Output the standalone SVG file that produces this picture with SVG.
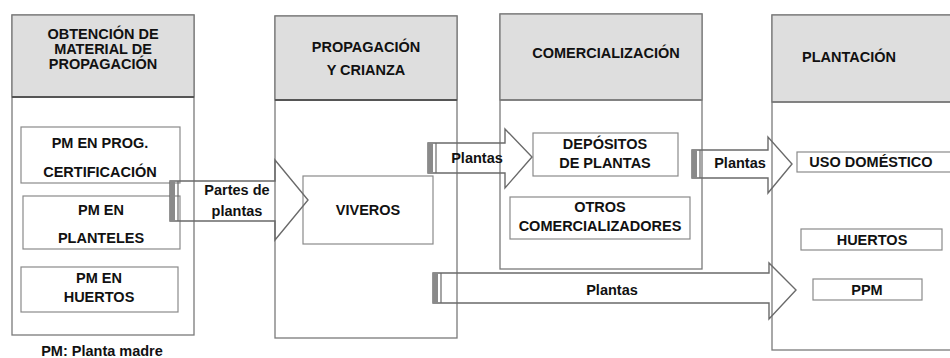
<svg xmlns="http://www.w3.org/2000/svg" width="950" height="358" viewBox="0 0 950 358">
<style>
.col{fill:#fff;stroke:#7a7a7a;stroke-width:1.3}
.hdr{fill:#dedede;stroke:#7a7a7a;stroke-width:1.3}
.hline{stroke:#555;stroke-width:2}
.box{fill:#fff;stroke:#8a8a8a;stroke-width:1.2}
.t{font-family:"Liberation Sans",Arial,sans-serif;font-weight:bold;font-size:14.5px;fill:#111;text-anchor:middle}
.a{font-family:"Liberation Sans",Arial,sans-serif;font-weight:bold;font-size:14.5px;fill:#111;text-anchor:middle}
.arr{fill:none;stroke:#6a6a6a;stroke-width:1.4}
.stripe{fill:#8a8a8a}
.sline{stroke:#6a6a6a;stroke-width:1.2}
</style>
<rect width="950" height="358" fill="#fff"/>

<g id="col1">
<rect class="col" x="12" y="15" width="182" height="320"/>
<rect class="hdr" x="12" y="15" width="182" height="82"/>
<line class="hline" x1="12" y1="97" x2="194" y2="97"/>
<text class="t" x="103" y="39">OBTENCIÓN DE</text>
<text class="t" x="103" y="54">MATERIAL DE</text>
<text class="t" x="103" y="69">PROPAGACIÓN</text>
</g>
<g id="pm-prog">
<rect class="box" x="21" y="127" width="159" height="56"/>
<text class="t" x="100" y="148">PM EN PROG.</text>
<text class="t" x="100" y="177">CERTIFICACIÓN</text>
</g>
<g id="pm-planteles">
<rect class="box" x="23" y="196" width="157" height="53"/>
<text class="t" x="101" y="215">PM EN</text>
<text class="t" x="101" y="243">PLANTELES</text>
</g>
<g id="pm-huertos">
<rect class="box" x="21" y="267" width="157" height="45"/>
<text class="t" x="99" y="283">PM EN</text>
<text class="t" x="99" y="302">HUERTOS</text>
</g>
<g id="nota">
<text class="t" x="102" y="356">PM: Planta madre</text>
</g>

<g id="col2">
<rect class="col" x="275" y="16" width="182" height="322"/>
<rect class="hdr" x="275" y="16" width="182" height="84"/>
<line class="hline" x1="275" y1="100" x2="457" y2="100"/>
<text class="t" x="366" y="52">PROPAGACIÓN</text>
<text class="t" x="366" y="75">Y CRIANZA</text>
</g>
<g id="viveros">
<rect class="box" x="303" y="176" width="130" height="68"/>
<text class="t" x="368" y="215">VIVEROS</text>
</g>

<g id="col3">
<rect class="col" x="500" y="14" width="202" height="255"/>
<rect class="hdr" x="500" y="14" width="202" height="86"/>
<line class="hline" x1="500" y1="100" x2="702" y2="100" style="stroke:#777;stroke-width:1.5"/>
<text class="t" x="606" y="58">COMERCIALIZACIÓN</text>
</g>
<g id="depositos">
<rect class="box" x="533" y="133" width="145" height="43"/>
<text class="t" x="605" y="149">DEPÓSITOS</text>
<text class="t" x="605" y="168">DE PLANTAS</text>
</g>
<g id="otros">
<rect class="box" x="510" y="197" width="180" height="42"/>
<text class="t" x="600" y="212">OTROS</text>
<text class="t" x="600" y="231">COMERCIALIZADORES</text>
</g>

<g id="col4">
<rect class="col" x="772" y="15" width="190" height="335"/>
<rect class="hdr" x="772" y="15" width="190" height="87"/>
<line class="hline" x1="772" y1="102" x2="962" y2="102" style="stroke:#777;stroke-width:1.5"/>
<text class="t" x="849" y="62">PLANTACIÓN</text>
</g>
<g id="uso">
<rect class="box" x="797" y="152" width="160" height="20"/>
<text class="t" x="871" y="167">USO DOMÉSTICO</text>
</g>
<g id="huertos">
<rect class="box" x="801" y="229" width="141" height="21"/>
<text class="t" x="872" y="245">HUERTOS</text>
</g>
<g id="ppm">
<rect class="box" x="813" y="279" width="109" height="21"/>
<text class="t" x="867" y="295">PPM</text>
</g>

<g id="connectors">
<path class="arr" d="M170,181 H275 V160 L308,200 L275,240 V221 H170 Z"/>
<rect class="stripe" x="170" y="181" width="5" height="40"/>
<line class="sline" x1="178" y1="181" x2="178" y2="221"/>
<text class="a" x="237" y="195">Partes de</text>
<text class="a" x="237" y="216">plantas</text>

<path class="arr" d="M428,143 H505 V129 L532,157 L505,188 V173 H428 Z"/>
<rect class="stripe" x="428" y="143" width="5" height="30"/>
<line class="sline" x1="436" y1="143" x2="436" y2="173"/>
<text class="a" x="477" y="163">Plantas</text>

<path class="arr" d="M692,150 H768 V137 L792,164 L768,193 V178 H692 Z"/>
<rect class="stripe" x="692" y="150" width="5" height="28"/>
<line class="sline" x1="700" y1="150" x2="700" y2="178"/>
<text class="a" x="740" y="168">Plantas</text>

<path class="arr" d="M433,273 H769 V263 L796,290 L769,319 V303 H433 Z"/>
<rect class="stripe" x="433" y="273" width="5" height="30"/>
<line class="sline" x1="441" y1="273" x2="441" y2="303"/>
<text class="a" x="612" y="295">Plantas</text>
</g>
</svg>
